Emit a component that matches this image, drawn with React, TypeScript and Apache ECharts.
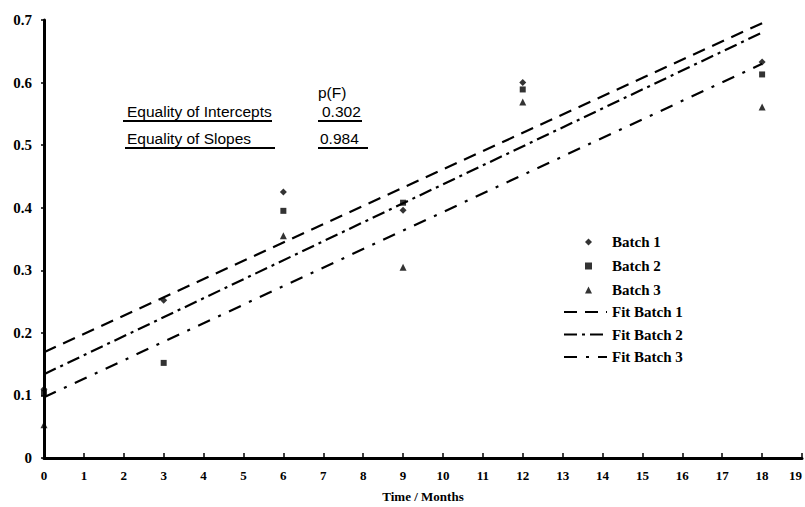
import React, { useEffect, useRef } from "react";
import * as echarts from "echarts";

const months = [0, 3, 6, 9, 12, 18];
const batch1 = [0.11, 0.252, 0.425, 0.396, 0.6, 0.633];
const batch2 = [0.104, 0.152, 0.395, 0.408, 0.589, 0.613];
const batch3 = [0.053, null, 0.355, 0.305, 0.569, 0.561];

const fitStart = 0;
const fitEnd = 18;
const fit1 = [0.169, 0.695];
const fit2 = [0.134, 0.68];
const fit3 = [0.097, 0.63];

const xTicks = { min: 0, max: 19, interval: 1 };
const yTicks = { min: 0, max: 0.7, interval: 0.1 };

const serif = '"Liberation Serif", "DejaVu Serif", serif';
const sans = '"Liberation Sans", Arial, sans-serif';

function pts(vals: (number | null)[]) {
  return months.map((m, i) => [m, vals[i]]).filter((p) => p[1] !== null);
}
function fitPts(v: number[]) {
  return [
    [fitStart, v[0]],
    [fitEnd, v[1]],
  ];
}

export default function App() {
  const ref = useRef<HTMLDivElement>(null);
  useEffect(() => {
    if (!ref.current) return;
    const chart = echarts.init(ref.current, null, { renderer: "svg" });
    const legendText = {
      fontFamily: serif,
      fontWeight: "bold" as const,
      fontSize: 15,
      color: "#000",
      lineHeight: 16,
    };
    chart.setOption({
      animation: false,
      backgroundColor: "#fff",
      grid: {
        left: 44,
        right: 3,
        top: 20,
        bottom: 49,
        containLabel: false,
        outerBoundsMode: "none",
      },
      legend: [
        {
          data: ["Batch 1", "Batch 2", "Batch 3"],
          orient: "vertical",
          left: 585,
          top: 234,
          padding: 0,
          itemWidth: 7,
          itemHeight: 7,
          itemGap: 8,
          textStyle: { ...legendText, padding: [0, 0, 0, 15] },
        },
        {
          data: ["Fit Batch 1", "Fit Batch 2", "Fit Batch 3"],
          orient: "vertical",
          left: 563,
          top: 304,
          padding: 0,
          itemWidth: 43,
          itemHeight: 10,
          itemGap: 6.5,
          itemStyle: { opacity: 0, color: "transparent", borderWidth: 0 },
          textStyle: legendText,
        },
      ],
      xAxis: {
        type: "value",
        min: xTicks.min,
        max: xTicks.max,
        interval: xTicks.interval,
        name: "Time / Months",
        nameLocation: "middle",
        nameGap: 32,
        nameTextStyle: {
          fontFamily: serif,
          fontWeight: "bold",
          fontSize: 13,
          color: "#000",
        },
        axisLine: { lineStyle: { color: "#000", width: 3 } },
        axisTick: { inside: true, length: 5, lineStyle: { color: "#000", width: 1.5 } },
        axisLabel: {
          margin: 11,
          fontFamily: serif,
          fontWeight: "bold",
          fontSize: 13,
          color: "#000",
          showMaxLabel: true,
          alignMaxLabel: "right",
        },
        splitLine: { show: false },
      },
      yAxis: {
        type: "value",
        min: yTicks.min,
        max: yTicks.max,
        interval: yTicks.interval,
        axisLine: { show: true, lineStyle: { color: "#000", width: 3 } },
        axisTick: { show: true, length: 3, lineStyle: { color: "#000", width: 1.5 } },
        axisLabel: {
          margin: 12,
          fontFamily: serif,
          fontWeight: "bold",
          fontSize: 15,
          color: "#000",
          formatter: (v: number) => (v === 0 ? "0" : v.toFixed(1)),
        },
        splitLine: { show: false },
      },
      series: [
        {
          name: "Batch 1",
          type: "scatter",
          symbol: "diamond",
          symbolSize: 7,
          itemStyle: { color: "#000" },
          data: pts(batch1),
          z: 5,
        },
        {
          name: "Batch 2",
          type: "scatter",
          symbol: "rect",
          symbolSize: 6,
          itemStyle: { color: "#000" },
          data: pts(batch2),
          z: 5,
        },
        {
          name: "Batch 3",
          type: "scatter",
          symbol: "triangle",
          symbolSize: 7,
          itemStyle: { color: "#000" },
          data: pts(batch3),
          z: 5,
        },
        {
          name: "Fit Batch 1",
          type: "line",
          showSymbol: false,
          symbol: "none",
          lineStyle: { color: "#000", width: 2.2, type: [13, 8] },
          itemStyle: { color: "#000" },
          data: fitPts(fit1),
        },
        {
          name: "Fit Batch 2",
          type: "line",
          showSymbol: false,
          symbol: "none",
          lineStyle: { color: "#000", width: 2.2, type: [13, 5, 3, 5] },
          itemStyle: { color: "#000" },
          data: fitPts(fit2),
        },
        {
          name: "Fit Batch 3",
          type: "line",
          showSymbol: false,
          symbol: "none",
          lineStyle: { color: "#000", width: 2.2, type: [13, 9, 3, 9] },
          itemStyle: { color: "#000" },
          data: fitPts(fit3),
        },
      ],
      graphic: [
        {
          type: "text",
          x: 318,
          y: 92,
          style: { text: "p(F)", font: `15.5px ${sans}`, fill: "#000", verticalAlign: "middle" },
        },
        {
          type: "text",
          x: 127,
          y: 111,
          style: { text: "Equality of Intercepts", font: `15.5px ${sans}`, fill: "#000", verticalAlign: "middle" },
        },
        {
          type: "text",
          x: 322,
          y: 111,
          style: { text: "0.302", font: `15.5px ${sans}`, fill: "#000", verticalAlign: "middle" },
        },
        {
          type: "text",
          x: 127,
          y: 138,
          style: { text: "Equality of Slopes", font: `15.5px ${sans}`, fill: "#000", verticalAlign: "middle" },
        },
        {
          type: "text",
          x: 320,
          y: 138,
          style: { text: "0.984", font: `15.5px ${sans}`, fill: "#000", verticalAlign: "middle" },
        },
        { type: "line", shape: { x1: 123, y1: 121, x2: 272, y2: 121 }, style: { stroke: "#000", lineWidth: 2 } },
        { type: "line", shape: { x1: 318, y1: 121, x2: 362, y2: 121 }, style: { stroke: "#000", lineWidth: 2 } },
        { type: "line", shape: { x1: 125, y1: 148, x2: 275, y2: 148 }, style: { stroke: "#000", lineWidth: 2 } },
        { type: "line", shape: { x1: 318, y1: 148, x2: 368, y2: 148 }, style: { stroke: "#000", lineWidth: 2 } },
      ],
    });
    return () => chart.dispose();
  }, []);
  return (
    <div
      ref={ref}
      style={{ position: "fixed", left: 0, top: 0, width: 805, height: 507 }}
    />
  );
}
